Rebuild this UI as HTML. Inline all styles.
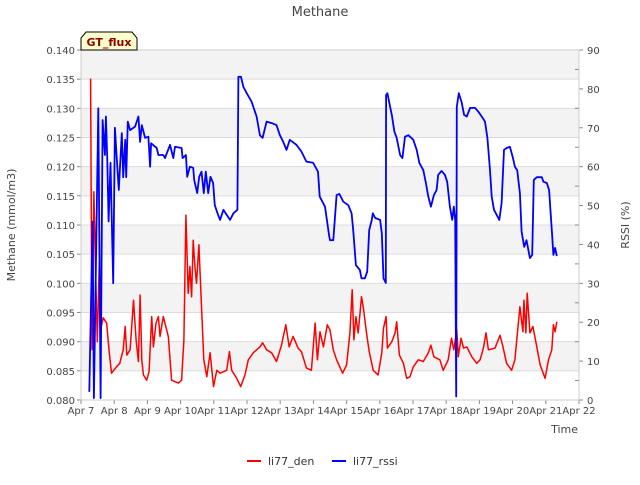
<!DOCTYPE html>
<html><head><meta charset="utf-8"><style>
body{margin:0;background:#fff;font-family:"Liberation Sans","DejaVu Sans",sans-serif}
svg text{font-family:"DejaVu Sans","Liberation Sans",sans-serif}
</style></head><body>
<svg id="chart" width="640" height="480" xmlns="http://www.w3.org/2000/svg">
<rect x="0" y="0" width="640" height="480" fill="#fff"/>
<g id="bands"></g>
<g id="grid"></g>
<g id="series"></g>
<g id="axes"></g>
<text x="320" y="16" text-anchor="middle" font-size="13" fill="#444">Methane</text>
<text x="15" y="225" text-anchor="middle" font-size="11" fill="#444" transform="rotate(-90 15 225)">Methane (mmol/m3)</text>
<text x="629" y="225" text-anchor="middle" font-size="11" fill="#444" transform="rotate(-90 629 225)">RSSI (%)</text>
<text x="578" y="433" text-anchor="end" font-size="11" fill="#444">Time</text>
<g>
<path d="M81,50 L81,38 L86,32 L132,32 L137,38 L137,50 Z" fill="#ffffcc" stroke="#000" stroke-width="1"/>
<text x="109" y="46" text-anchor="middle" font-size="11" font-weight="bold" fill="#8b0000">GT_flux</text>
</g>
<g>
<g>
<line x1="247" y1="461" x2="261" y2="461" stroke="#f00" stroke-width="2"/>
<text x="268" y="465" font-size="11" fill="#333">li77_den</text></g>
<g>
<line x1="332" y1="461" x2="346" y2="461" stroke="#00f" stroke-width="2"/>
<text x="353" y="465" font-size="11" fill="#333">li77_rssi</text></g>
</g>
</svg>
<script>
const xTickLabels=["Apr 7","Apr 8","Apr 9","Apr 10","Apr 11","Apr 12","Apr 13","Apr 14","Apr 15","Apr 16","Apr 17","Apr 18","Apr 19","Apr 20","Apr 21","Apr 22"];
const yTicks=[0.080,0.085,0.090,0.095,0.100,0.105,0.110,0.115,0.120,0.125,0.130,0.135,0.140];
const y2Ticks=[0,10,20,30,40,50,60,70,80,90];
const denDays=[.29,.33,.39,.43,.49,.55,.61,.67,.77,.85,.92,1.07,1.17,1.27,1.33,1.38,1.48,1.58,1.66,1.73,1.78,1.83,1.88,1.98,2.05,2.13,2.18,2.26,2.33,2.38,2.48,2.63,2.73,2.93,3.03,3.1,3.16,3.23,3.28,3.33,3.38,3.43,3.48,3.55,3.63,3.7,3.79,3.89,3.99,4.09,4.19,4.39,4.47,4.54,4.69,4.81,4.94,5.04,5.19,5.39,5.47,5.59,5.74,5.89,6.04,6.17,6.27,6.39,6.54,6.64,6.79,6.94,7.05,7.12,7.2,7.3,7.42,7.5,7.6,7.7,7.88,8,8.1,8.17,8.22,8.28,8.35,8.45,8.5,8.6,8.68,8.8,8.95,9.06,9.11,9.19,9.23,9.36,9.46,9.51,9.59,9.71,9.81,9.91,10.01,10.16,10.31,10.46,10.54,10.63,10.81,10.91,11.06,11.16,11.23,11.32,11.36,11.45,11.52,11.62,11.77,11.92,12.02,12.12,12.2,12.27,12.47,12.62,12.7,12.82,12.97,13.07,13.14,13.22,13.31,13.34,13.4,13.44,13.52,13.61,13.73,13.83,13.98,14.08,14.18,14.23,14.28,14.33];
const denValues=[.1351,.0886,.1157,.104,.090,.1035,.0926,.0941,.0932,.0883,.0846,.0857,.0863,.0886,.0926,.0877,.0886,.0971,.0903,.0866,.098,.0869,.0843,.0834,.0849,.0943,.0891,.0932,.0943,.0909,.0943,.0909,.0834,.0829,.0834,.0903,.1117,.0983,.1029,.0977,.1074,.1029,.1,.1066,.096,.0869,.084,.0881,.0823,.0851,.0846,.0851,.0883,.0851,.0837,.0823,.0843,.0869,.0881,.0891,.0898,.0886,.0881,.0866,.0894,.0929,.0891,.0909,.0889,.0883,.0855,.0851,.0932,.0869,.0917,.0891,.0929,.092,.0886,.0869,.0846,.086,.0915,.0989,.0903,.0943,.0915,.0977,.096,.0915,.0883,.0851,.0843,.0881,.0923,.0943,.0889,.09,.0915,.0934,.0877,.0863,.0837,.084,.0857,.0869,.0866,.0881,.0894,.0874,.0869,.0851,.0869,.0906,.0886,.092,.0874,.0906,.0889,.0891,.0874,.0863,.0869,.0889,.0915,.0886,.0889,.0911,.0894,.0863,.0851,.0869,.0911,.096,.0917,.0971,.0915,.0983,.0915,.0926,.0891,.086,.0837,.0869,.0886,.0929,.0917,.0934];
const rssiDays=[.25,.35,.39,.52,.59,.65,.72,.75,.79,.83,.89,.97,1.02,1.08,1.14,1.23,1.27,1.33,1.36,1.41,1.48,1.63,1.73,1.78,1.83,1.93,2.03,2.08,2.11,2.28,2.33,2.48,2.53,2.68,2.78,2.83,3.03,3.06,3.16,3.2,3.28,3.38,3.41,3.5,3.56,3.63,3.7,3.76,3.83,3.9,3.98,4.03,4.13,4.19,4.29,4.39,4.49,4.59,4.71,4.74,4.82,4.89,4.99,5.14,5.29,5.39,5.47,5.59,5.74,5.89,5.99,6.09,6.19,6.29,6.49,6.64,6.79,6.99,7.14,7.19,7.35,7.48,7.5,7.6,7.7,7.78,7.9,8.05,8.15,8.2,8.28,8.4,8.45,8.55,8.62,8.68,8.76,8.79,8.86,9.01,9.06,9.11,9.18,9.19,9.23,9.31,9.36,9.44,9.51,9.61,9.68,9.76,9.86,10.01,10.11,10.19,10.31,10.39,10.46,10.54,10.63,10.71,10.76,10.86,10.96,11.03,11.11,11.18,11.23,11.27,11.3,11.32,11.38,11.47,11.54,11.62,11.72,11.87,11.97,12.07,12.17,12.24,12.32,12.37,12.44,12.52,12.6,12.67,12.74,12.82,12.92,13,13.07,13.14,13.22,13.27,13.35,13.42,13.52,13.59,13.64,13.73,13.88,13.93,14.03,14.1,14.18,14.23,14.28,14.33];
const rssiValues=[2.1,45.9,.5,75,.5,72,63,72.9,62.6,45.9,61,30,70,61.7,54,68.6,57.3,66.9,57.3,71.6,69.4,70.3,72.9,66.4,70.7,67.4,67.7,60,66,64.8,63,63,62.2,65.6,62.2,65.1,64.8,62.2,63,57.4,60,59.7,56.6,53.2,57.4,58.7,53.2,58.7,53.2,57.4,55.8,50.1,47.6,46.3,48.9,47.6,46.3,48,48.9,83.1,83.1,80.6,78.9,76.7,72.9,68.1,67.4,71.6,71.2,70.7,68.1,66.4,64.3,66.9,65.6,63.9,61.3,61,58.7,52.3,49.7,42,41.1,41.1,52.7,53,51,50.1,48,43.7,34.7,33.4,31.3,31.3,33,43.7,46.3,48,46.8,46.3,42.9,31.3,30.1,78.4,78.9,75.4,73.3,69,67.4,63,62.2,67.7,68.1,66.9,64.3,61,59.1,55.8,52.3,49.7,52.7,54,57.9,58.9,57.9,56.1,49.7,46.3,49.7,46.3,.9,75.4,78.9,76.4,73.3,72.9,75.1,75.1,74.1,72.9,71.6,67.4,59.1,52.3,48.9,47.6,46.3,50.6,64.3,64.8,65.1,62.6,60,59.1,53.2,43.3,39.4,41.1,36.5,37.3,56.6,57.3,57.3,56.1,55.8,54,43.7,37.3,39.1,37];

const L=81,R=579,T=50,B=400,NS="http://www.w3.org/2000/svg";
const xS=d=>L+d*(R-L)/15;
const yS=v=>B-(v-0.08)/0.06*(B-T);
const y2S=v=>B-v/90*(B-T);
function mk(tag,attrs,parent){const e=document.createElementNS(NS,tag);for(const k in attrs)e.setAttribute(k,attrs[k]);document.getElementById(parent).appendChild(e);return e;}

for(let i=0;i<yTicks.length-1;i++){
  if(i%2===1){const r=mk('rect',{x:L,y:yS(yTicks[i+1]),width:R-L,height:yS(yTicks[i])-yS(yTicks[i+1]),fill:'#f3f3f3'},'bands');
  
  }
}
yTicks.forEach(v=>{
  const g=mk('line',{x1:L,x2:R,y1:yS(v),y2:yS(v),stroke:'#dcdcdc','stroke-width':1},'grid');
  
  
  const t=mk('text',{x:L-6,y:yS(v)+4,'text-anchor':'end','font-size':10,fill:'#444'},'axes');
  
  
  t.textContent=v.toFixed(3);
  mk('line',{x1:L-4,x2:L,y1:yS(v),y2:yS(v),stroke:'#888'},'axes');
});
y2Ticks.forEach(v=>{
  const t=mk('text',{x:R+8,y:y2S(v)+4,'text-anchor':'start','font-size':10,fill:'#444'},'axes');
  
  
  t.textContent=v;
  mk('line',{x1:R,x2:R+4,y1:y2S(v),y2:y2S(v),stroke:'#888'},'axes');
  if(v<90) mk('line',{x1:R-4,x2:R,y1:y2S(v+5),y2:y2S(v+5),stroke:'#888'},'axes');
});
xTickLabels.forEach((s,i)=>{
  const t=mk('text',{x:xS(i),y:B+14,'text-anchor':'middle','font-size':10,fill:'#444'},'axes');
  
  
  t.textContent=s;
  mk('line',{x1:xS(i),x2:xS(i),y1:B,y2:B+4,stroke:'#888'},'axes');
});
mk('rect',{x:L,y:T,width:R-L,height:B-T,fill:'none',stroke:'#ccc'},'axes');

const dPts=denDays.map((d,i)=>xS(d).toFixed(1)+','+yS(denValues[i]).toFixed(1)).join(' ');
const pd=mk('polyline',{points:dPts,fill:'none',stroke:'#f00','stroke-width':1.5,'stroke-linejoin':'round'},'series');


const rPts=rssiDays.map((d,i)=>xS(d).toFixed(1)+','+y2S(rssiValues[i]).toFixed(1)).join(' ');
const pr=mk('polyline',{points:rPts,fill:'none',stroke:'#00f','stroke-width':1.8,'stroke-linejoin':'round'},'series');


</script>
</body></html>
